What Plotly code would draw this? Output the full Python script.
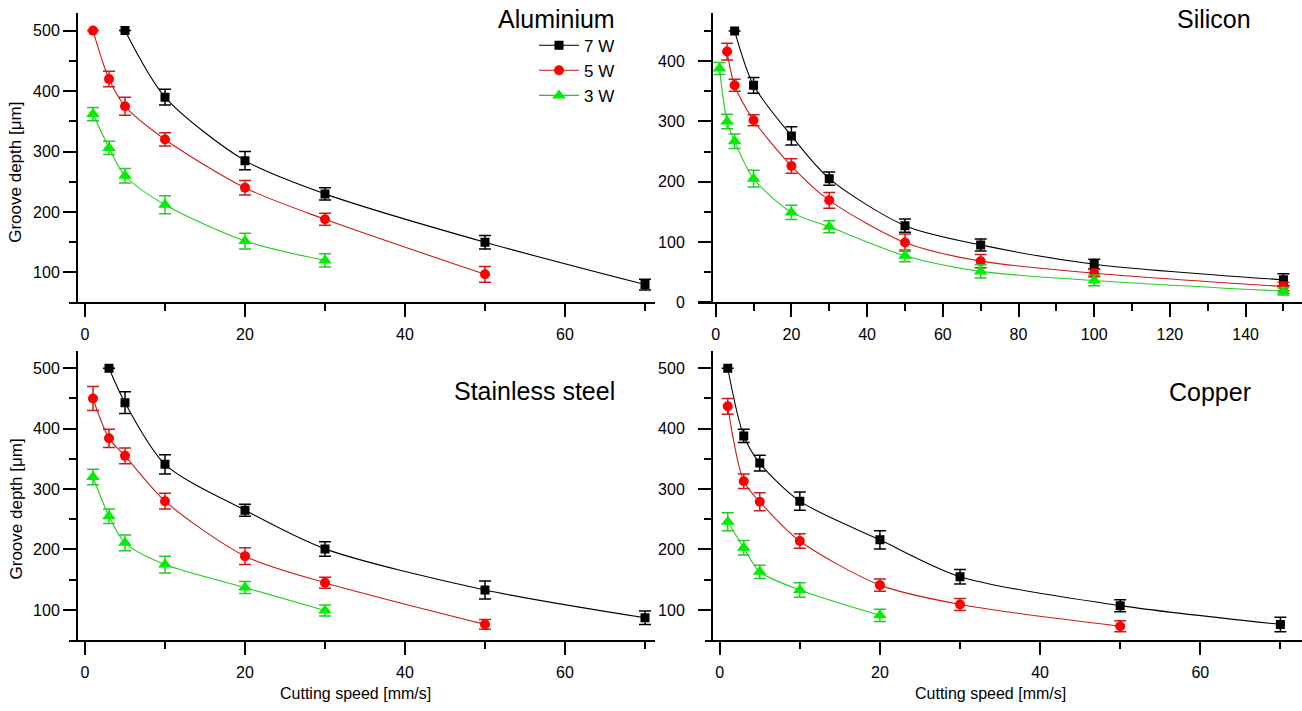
import plotly.graph_objects as go

W, H = 1302, 711

# ---------------- data ----------------
powers = ["7 W", "5 W", "3 W"]

al_x_7 = [5, 10, 20, 30, 50, 70]
al_y_7 = [500, 390, 285, 230, 150, 80]
al_e_7 = [0, 13, 15, 10, 11, 9]
al_x_5 = [1, 3, 5, 10, 20, 30, 50]
al_y_5 = [500, 420, 375, 320, 240, 188, 97]
al_e_5 = [0, 13, 15, 11, 12, 10, 13]
al_x_3 = [1, 3, 5, 10, 20, 30]
al_y_3 = [362, 306, 260, 212, 152, 120]
al_e_3 = [11, 11, 12, 15, 13, 11]

si_x_7 = [5, 10, 20, 30, 50, 70, 100, 150]
si_y_7 = [450, 360, 276, 205, 127, 95, 63, 37]
si_e_7 = [0, 13, 15, 11, 11, 10, 8, 10]
si_x_5 = [3, 5, 10, 20, 30, 50, 70, 100, 150]
si_y_5 = [416, 360, 302, 226, 169, 99, 68, 48, 26]
si_e_5 = [14, 10, 9, 12, 13, 14, 11, 6, 7]
si_x_3 = [1, 3, 5, 10, 20, 30, 50, 70, 100, 150]
si_y_3 = [388, 300, 267, 205, 149, 125, 77, 51, 36, 18]
si_e_3 = [10, 12, 12, 14, 12, 10, 10, 11, 9, 6]

ss_x_7 = [3, 5, 10, 20, 30, 50, 70]
ss_y_7 = [500, 443, 341, 265, 201, 133, 87]
ss_e_7 = [0, 18, 16, 10, 12, 15, 11]
ss_x_5 = [1, 3, 5, 10, 20, 30, 50]
ss_y_5 = [450, 384, 355, 280, 189, 145, 76]
ss_e_5 = [20, 15, 13, 13, 14, 9, 8]
ss_x_3 = [1, 3, 5, 10, 20, 30]
ss_y_3 = [320, 255, 211, 175, 137, 99]
ss_e_3 = [13, 12, 13, 14, 10, 9]

cu_x_7 = [1, 3, 5, 10, 20, 30, 50, 70]
cu_y_7 = [500, 388, 343, 280, 216, 155, 107, 76]
cu_e_7 = [0, 11, 13, 15, 15, 12, 10, 12]
cu_x_5 = [1, 3, 5, 10, 20, 30, 50]
cu_y_5 = [437, 313, 279, 214, 141, 109, 73]
cu_e_5 = [13, 12, 15, 12, 10, 10, 9]
cu_x_3 = [1, 3, 5, 10, 20]
cu_y_3 = [246, 203, 163, 133, 91]
cu_e_3 = [15, 12, 11, 12, 10]

panel_titles = ["Aluminium", "Silicon", "Stainless steel", "Copper"]
x_title = "Cutting speed [mm/s]"
y_title = "Groove depth [\u03bcm]"

# ---------------- styling ----------------
FONT = "Liberation Sans, Arial, sans-serif"
marker_colors = ["#000000", "#ff0000", "#00ee00"]
line_colors = ["#000000", "#cc1a1a", "#22cc22"]
symbols = ["square", "circle", "triangle-up"]
msizes = [9, 10, 12]

panels = [
    [(al_x_7, al_y_7, al_e_7), (al_x_5, al_y_5, al_e_5), (al_x_3, al_y_3, al_e_3)],
    [(si_x_7, si_y_7, si_e_7), (si_x_5, si_y_5, si_e_5), (si_x_3, si_y_3, si_e_3)],
    [(ss_x_7, ss_y_7, ss_e_7), (ss_x_5, ss_y_5, ss_e_5), (ss_x_3, ss_y_3, ss_e_3)],
    [(cu_x_7, cu_y_7, cu_e_7), (cu_x_5, cu_y_5, cu_e_5), (cu_x_3, cu_y_3, cu_e_3)],
]

fig = go.Figure()
for p, series in enumerate(panels):
    xa = "x" if p == 0 else f"x{p+1}"
    ya = "y" if p == 0 else f"y{p+1}"
    for s, (xs, ys, es) in enumerate(series):
        fig.add_trace(go.Scatter(
            x=xs, y=ys, xaxis=xa, yaxis=ya,
            mode="lines+markers", name=powers[s],
            showlegend=(p == 0),
            line=dict(color=line_colors[s], width=1.1, shape="spline", smoothing=0.8),
            marker=dict(symbol=symbols[s], size=msizes[s], color=marker_colors[s]),
            error_y=dict(type="data", array=es, visible=True, color=line_colors[s],
                         thickness=1.5, width=6),
        ))


def px_x(px):
    return px / W


def px_y(py):
    return 1 - py / H


def xaxis(dom, rng, anchor):
    return dict(domain=[px_x(dom[0]), px_x(dom[1])], range=rng, anchor=anchor,
                showgrid=False, zeroline=False, showline=True, linecolor="black",
                linewidth=2, ticks="outside", ticklen=13, tickwidth=2, tickcolor="black",
                dtick=20, tick0=0, ticklabelstandoff=4,
                tickfont=dict(family=FONT, size=16, color="black"),
                minor=dict(dtick=10, tick0=0, ticks="outside", ticklen=7, tickwidth=2,
                           tickcolor="black", showgrid=False))


def yaxis(dom, rng, pos, standoff):
    return dict(domain=[px_y(dom[1]), px_y(dom[0])], range=rng, anchor="free",
                position=px_x(pos),
                showgrid=False, zeroline=False, showline=True, linecolor="black",
                linewidth=2, ticks="outside", ticklen=13, tickwidth=2, tickcolor="black",
                dtick=100, tick0=0, ticklabelstandoff=standoff,
                tickfont=dict(family=FONT, size=16, color="black"),
                minor=dict(dtick=50, tick0=0, ticks="outside", ticklen=7, tickwidth=2,
                           tickcolor="black", showgrid=False))


fig.update_layout(
    width=W, height=H, margin=dict(l=0, r=0, t=0, b=0),
    paper_bgcolor="white", plot_bgcolor="rgba(0,0,0,0)",
    font=dict(family=FONT, color="black"),
    xaxis=xaxis((69, 655), [-2, 71.25], "y"),
    yaxis=yaxis((13, 306), [51, 529.4], 77, 0),
    xaxis2=xaxis((698, 1302), [-4.68, 154.9], "y2"),
    yaxis2=yaxis((13, 306), [0, 480.3], 712, 10),
    xaxis3=xaxis((69, 655), [-2, 71.25], "y3"),
    yaxis3=yaxis((355, 648), [50.5, 529.4], 77, 0),
    xaxis4=xaxis((705, 1302), [-1.84, 72.7], "y4"),
    yaxis4=yaxis((355, 648), [50.5, 529.4], 712, 10),
    legend=dict(x=px_x(620), y=px_y(28), xanchor="right", yanchor="top",
                bgcolor="rgba(0,0,0,0)", font=dict(family=FONT, size=17, color="black"),
                tracegroupgap=0, itemwidth=40),
)

annots = []
title_pos = [(617, 19), (1253, 19), (617, 396), (1253, 397)]
for t, (tx, ty) in zip(panel_titles, title_pos):
    annots.append(dict(text=t, x=px_x(tx), y=px_y(ty), xref="paper", yref="paper",
                       xanchor="right", yanchor="middle", showarrow=False,
                       font=dict(family=FONT, size=25, color="black")))
for ty in (175, 516):
    annots.append(dict(text=y_title, x=px_x(16), y=px_y(ty), xref="paper", yref="paper",
                       xanchor="center", yanchor="middle", showarrow=False, textangle=-90,
                       font=dict(family=FONT, size=17, color="black")))
for tx in (355, 990):
    annots.append(dict(text=x_title, x=px_x(tx), y=px_y(712), xref="paper", yref="paper",
                       xanchor="center", yanchor="bottom", showarrow=False, borderpad=0,
                       font=dict(family=FONT, size=16, color="black")))
fig.update_layout(annotations=annots)

fig.write_html("out.html")
